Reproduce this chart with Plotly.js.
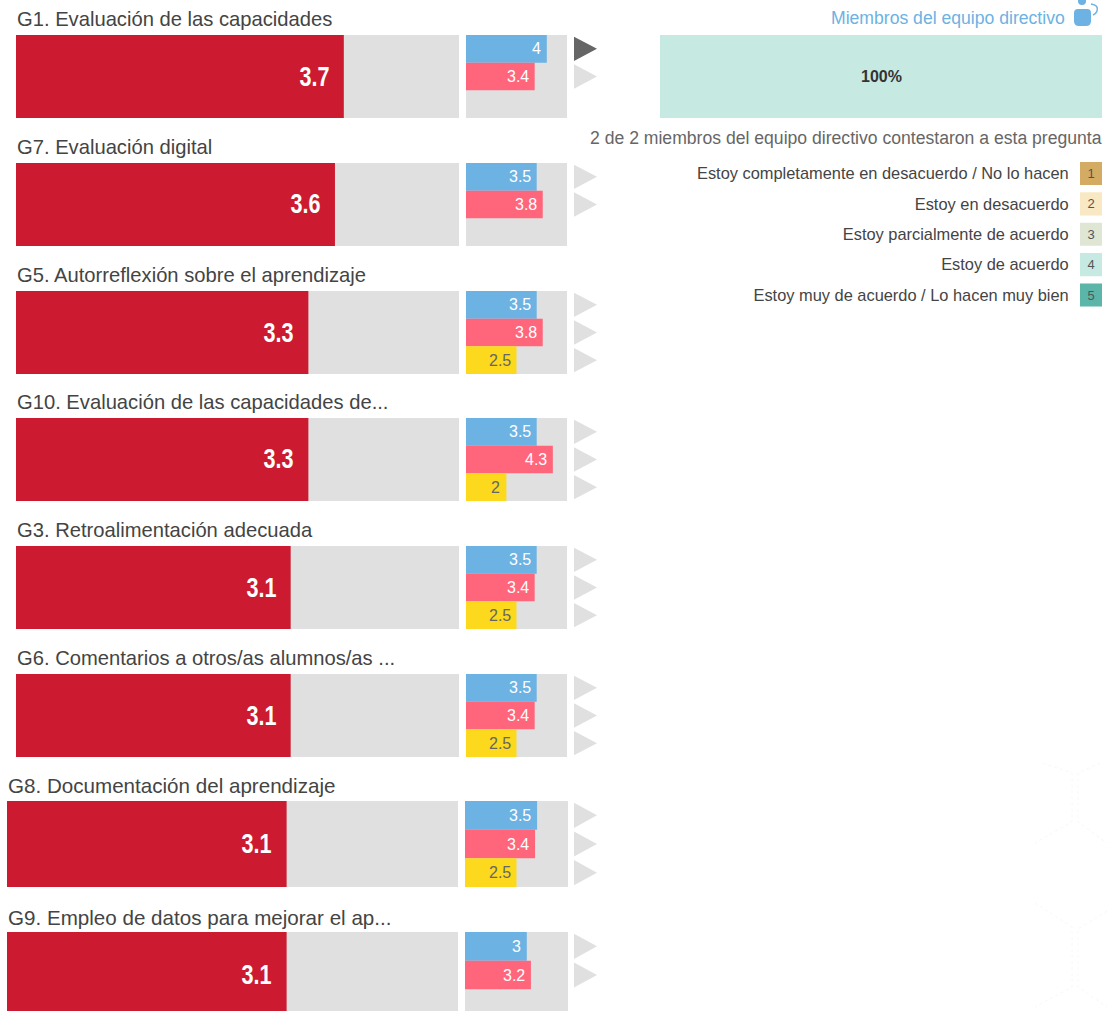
<!DOCTYPE html>
<html><head><meta charset="utf-8">
<script src="https://cdn.plot.ly/plotly-3.0.1.min.js"></script>
<style>html,body{margin:0;padding:0;background:#fff}#c{width:1108px;height:1011px}</style></head>
<body><div id="c"></div>
<script>
// ---- data ----
const categories = ["G1. Evaluación de las capacidades","G7. Evaluación digital","G5. Autorreflexión sobre el aprendizaje","G10. Evaluación de las capacidades de...","G3. Retroalimentación adecuada","G6. Comentarios a otros/as alumnos/as ...","G8. Documentación del aprendizaje","G9. Empleo de datos para mejorar el ap..."];
const overall = [3.7,3.6,3.3,3.3,3.1,3.1,3.1,3.1];
const blueSeries = [4,3.5,3.5,3.5,3.5,3.5,3.5,3];
const pinkSeries = [3.4,3.8,3.8,4.3,3.4,3.4,3.4,3.2];
const yellowSeries = [null,null,2.5,2,2.5,2.5,2.5,null];
const answerLabels = ["Estoy completamente en desacuerdo / No lo hacen","Estoy en desacuerdo","Estoy parcialmente de acuerdo","Estoy de acuerdo","Estoy muy de acuerdo / Lo hacen muy bien"];
const answerCodes = ["1","2","3","4","5"];
const answerShares = [0,0,0,100,0];
const panelTitle = "Miembros del equipo directivo";
const panelNote = "2 de 2 miembros del equipo directivo contestaron a esta pregunta";

// ---- style and page geometry (pixels) ----
const W=1108,H=1011;
const rowTop=[35,163,291,418,546,674,801,932];
const rowHeight=[83,83,83,83,83,83,86,86];
const mainBox=[[16,459],[16,459],[16,459],[16,459],[16,459],[16,459],[7,458],[7,458]];
const smallBox=[[466,567],[466,567],[466,567],[466,567],[466,567],[466,567],[465,568],[465,568]];
const titleX=[15,15,15,15,15,15,6,6];
const titleY=[19,147,275,402,530,658,785,917];
const titleSize=[20.2,20.2,20.2,20.2,20.2,20.2,20.6,20.6];
const triBox=[574,597];
const RED="#cc1a30",GREY="#e0e0e0",BLUE="#6cb2e3",PINK="#ff667c",YEL="#fcd91c",DARK="#666666";
const answerColors=["#d4ab62","#f8e8c4","#dfe6d4","#c6e9e2","#5bb5a8"];
const SANS="Liberation Sans, Arial, sans-serif";
const dx=(a,b)=>[a/W,b/W], dy=(a,b)=>[1-b/H,1-a/H];
const px=x=>x/W, py=y=>1-y/H;

const traces=[],ann=[],shapes=[],layout={};
let axisN=0;
function addAxes(xd,yd,xr,yr,extraY){
  axisN++; const k=axisN===1?"":axisN;
  layout["xaxis"+k]={domain:xd,range:xr,visible:false,fixedrange:true,anchor:"y"+k};
  layout["yaxis"+k]=Object.assign({domain:yd,range:yr,visible:false,fixedrange:true,anchor:"x"+k},extraY||{});
  return {x:"x"+k,y:"y"+k};
}
function bar(ax,val,pos,width,color,name){
  traces.push({type:"bar",orientation:"h",x:[val],y:[pos],width:[width],xaxis:ax.x,yaxis:ax.y,marker:{color:color,line:{width:0}},name:name,hoverinfo:"x+name"});
}
categories.forEach((cat,i)=>{
  const top=rowTop[i],h=rowHeight[i],bottom=Math.min(top+h,H),vis=(bottom-top)/h;
  ann.push({xref:"paper",yref:"paper",x:px(titleX[i]),y:py(titleY[i]),xanchor:"left",yanchor:"middle",showarrow:false,text:cat,font:{family:SANS,size:titleSize[i],color:"#444"}});
  const m=addAxes(dx(...mainBox[i]),dy(top,bottom),[0,5],[-0.5+vis,-0.5]);
  bar(m,5,0,1,GREY,"Escala");
  bar(m,overall[i],0,1,RED,cat);
  ann.push({xref:m.x,yref:m.y,x:overall[i],y:0,xshift:i>5?-13:-12,xanchor:"right",yanchor:"middle",showarrow:false,text:"<b>"+overall[i]+"</b>",font:{family:SANS,size:27,color:"#fff"},captureevents:false,name:"score"});
  const s=addAxes(dx(...smallBox[i]),dy(top,bottom),[0,5],[-0.5+3*vis,-0.5]);
  bar(s,5,1,3,GREY,"Escala");
  const t=addAxes(dx(...triBox),dy(top,bottom),[0,1],[-0.5+3*vis,-0.5]);
  [[blueSeries,BLUE,"#fff"],[pinkSeries,PINK,"#fff"],[yellowSeries,YEL,"#666"]].forEach((ser,j)=>{
    const v=ser[0][i]; if(v===null) return;
    bar(s,v,j,1,ser[1],cat);
    ann.push({xref:s.x,yref:s.y,x:v,y:j,xshift:-4,xanchor:"right",yanchor:"middle",showarrow:false,text:String(v),font:{family:SANS,size:16,color:ser[2]}});
    traces.push({type:"scatter",mode:"lines",x:[0,0,1,0],y:[j-0.44,j+0.44,j,j-0.44],fill:"toself",fillcolor:(i===0&&j===0)?DARK:GREY,line:{width:0},xaxis:t.x,yaxis:t.y,hoverinfo:"skip"});
  });
});
// distribution panel
const p=addAxes(dx(660,1102),dy(35,118),[0,100],[0.5,-0.5]);
let cum=0;
answerShares.forEach((v,i)=>{
  if(v>0){
    traces.push({type:"bar",orientation:"h",x:[v],base:[cum],y:[0],width:[1],xaxis:p.x,yaxis:p.y,marker:{color:answerColors[i],line:{width:0}},name:answerLabels[i],hoverinfo:"x+name"});
    ann.push({xref:p.x,yref:p.y,x:cum+v/2,y:0,showarrow:false,text:"<b>"+v+"%</b>",font:{family:SANS,size:16,color:"#333"}});
  }
  cum+=v;
});
// answer key
const l=addAxes(dx(1080,1102),dy(158.3,310.2),[0,1],[4.5,-0.5],{visible:true,showline:false,showgrid:false,zeroline:false,tickmode:"array",tickvals:[0,1,2,3,4],ticktext:answerLabels,ticks:"outside",ticklen:7,tickcolor:"rgba(0,0,0,0)",tickfont:{family:SANS,size:16.4,color:"#444"}});
traces.push({type:"bar",orientation:"h",x:answerCodes.map(()=>1),y:[0,1,2,3,4],width:answerCodes.map(()=>0.76),xaxis:l.x,yaxis:l.y,marker:{color:answerColors,line:{width:0}},text:answerCodes,textposition:"inside",insidetextanchor:"middle",constraintext:"none",textangle:0,textfont:{family:SANS,size:13,color:"#555"},hoverinfo:"skip"});
// texts
ann.push({xref:"paper",yref:"paper",x:px(1067),y:py(18),xanchor:"right",yanchor:"middle",showarrow:false,text:panelTitle,font:{family:SANS,size:17.6,color:BLUE}});
ann.push({xref:"paper",yref:"paper",x:px(1104),y:py(138),xanchor:"right",yanchor:"middle",showarrow:false,text:panelNote,font:{family:SANS,size:17.6,color:"#666"}});
// icon
const P=(x,y)=>px(x).toFixed(5)+","+py(y).toFixed(5);
shapes.push({type:"path",xref:"paper",yref:"paper",path:"M"+P(1078,9)+"L"+P(1087,9)+"Q"+P(1091,9)+" "+P(1091,13)+"L"+P(1091,21)+"Q"+P(1091,26)+" "+P(1086,26)+"L"+P(1079,26)+"Q"+P(1074,26)+" "+P(1074,21)+"L"+P(1074,13)+"Q"+P(1074,9)+" "+P(1078,9)+"Z",fillcolor:BLUE,line:{width:0}});
shapes.push({type:"circle",xref:"paper",yref:"paper",x0:px(1078),x1:px(1086),y0:py(-3),y1:py(5),fillcolor:BLUE,line:{width:0}});
shapes.push({type:"path",xref:"paper",yref:"paper",path:"M"+P(1091,4)+"Q"+P(1099,5)+" "+P(1097,11)+"Q"+P(1096,14)+" "+P(1093,15),line:{color:BLUE,width:1.5}});
// faint background decoration
const ghost=[[[1043,763],[1072,773],[1072,822],[1035,843]],[[1100,763],[1078,773],[1078,822],[1107,843]],[[1035,903],[1072,927],[1072,987],[1035,1007]],[[1107,911],[1078,929],[1078,987],[1107,1007]]];
ghost.forEach(g=>shapes.push({type:"path",xref:"paper",yref:"paper",layer:"below",path:"M"+g.map(q=>P(q[0],q[1])).join("L"),line:{color:"#f8f8f8",width:1,dash:"dot"}}));

Object.assign(layout,{width:W,height:H,margin:{l:0,r:0,t:0,b:0},paper_bgcolor:"#fff",plot_bgcolor:"rgba(0,0,0,0)",barmode:"overlay",showlegend:false,annotations:ann,shapes:shapes,font:{family:SANS}});
Plotly.newPlot("c",traces,layout,{displayModeBar:false,responsive:false}).then(gd=>{
  // the score labels are set in a condensed bold face in the reference
  gd.querySelectorAll(".annotation-text").forEach(el=>{
    if(parseFloat(el.style.fontSize)===27){
      el.style.transformBox="fill-box";
      el.style.transformOrigin="right center";
      el.style.transform="scaleX(0.8)";
    }
  });
});
</script></body></html>
